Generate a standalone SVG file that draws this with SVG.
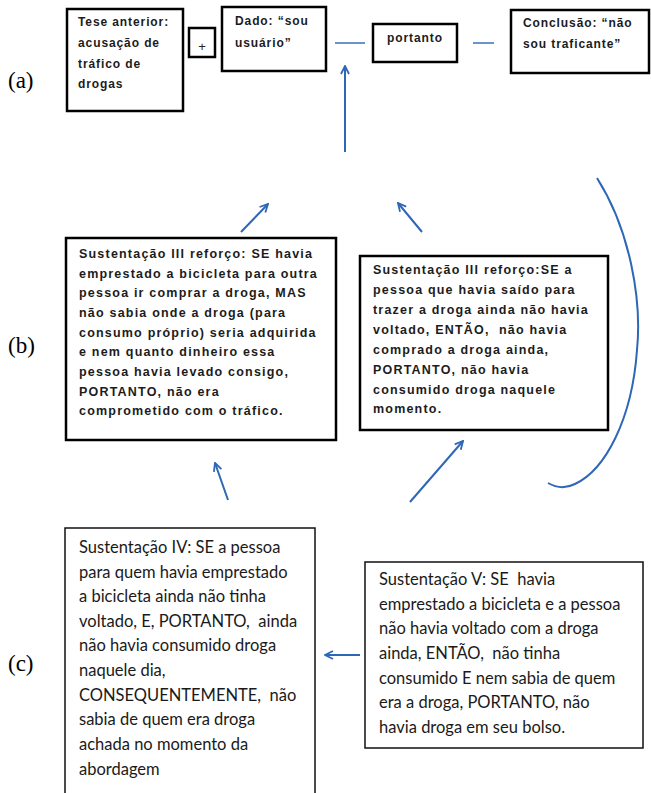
<svg xmlns="http://www.w3.org/2000/svg" width="651" height="793" viewBox="0 0 651 793">
<style>
text{white-space:pre}
.box{fill:#fff;stroke:#000;stroke-width:2.5}
.boxt{fill:#fff;stroke:#111;stroke-width:1.5}
.t{font-family:"Liberation Sans",Arial,sans-serif;font-weight:bold;font-size:12px;fill:#1c1c1c;letter-spacing:0.9px}
.m{font-family:"Liberation Sans",Arial,sans-serif;font-weight:bold;font-size:12.5px;fill:#1c1c1c;letter-spacing:1.2px}
.b{font-family:Lato,"Open Sans",sans-serif;font-size:16.5px;fill:#1a1a1a}
.lab{font-family:"Liberation Serif","Times New Roman",serif;font-size:23px;fill:#000}
.c{fill:none;stroke:#2e67b5;stroke-width:2}
.ln{fill:none;stroke:#3a70bd;stroke-width:1.5}
</style>
<defs>
<marker id="ah" viewBox="0 0 10 10" refX="9" refY="5" markerWidth="5" markerHeight="5" orient="auto" markerUnits="strokeWidth">
<path d="M1,1 L9,5 L1,9" fill="none" stroke="#2e67b5" stroke-width="1.8"/>
</marker>
</defs>
<rect width="651" height="793" fill="#fff"/>
<text class="lab" x="8" y="88">(a)</text>
<text class="lab" x="8" y="353">(b)</text>
<text class="lab" x="8" y="671">(c)</text>
<g id="connectors">
<line class="ln" x1="335" y1="43" x2="365" y2="43"/>
<line class="ln" x1="473" y1="43" x2="494" y2="43"/>
<line class="c" x1="345" y1="152" x2="345" y2="66" marker-end="url(#ah)"/>
<line class="c" x1="241" y1="232" x2="268" y2="204" marker-end="url(#ah)"/>
<line class="c" x1="422" y1="232" x2="398" y2="203" marker-end="url(#ah)"/>
<line class="c" x1="228" y1="500" x2="215" y2="463" marker-end="url(#ah)"/>
<line class="c" x1="410" y1="502" x2="463" y2="441" marker-end="url(#ah)"/>
<line class="c" x1="360" y1="655" x2="325" y2="655" marker-end="url(#ah)"/>
<path class="c" d="M597,178 C630,230 642,300 637,350 C632,420 605,470 575,484 C565,489 555,487 548,483"/>
</g>
<g id="tese">
<rect class="box" x="67" y="9" width="116" height="102"/>
<text class="t" x="78" y="26">Tese anterior:</text>
<text class="t" x="78" y="47">acusação de</text>
<text class="t" x="78" y="68">tráfico de</text>
<text class="t" x="78" y="88">drogas</text>
</g>
<g id="plus">
<rect class="box" x="189" y="28" width="26" height="29"/>
<text x="202" y="51" text-anchor="middle" font-family="Liberation Sans,Arial,sans-serif" font-size="13" fill="#222">+</text>
</g>
<g id="dado">
<rect class="box" x="222" y="7" width="104" height="64"/>
<text class="t" x="235" y="25">Dado: “sou</text>
<text class="t" x="235" y="47">usuário”</text>
</g>
<g id="portanto">
<rect class="box" x="373" y="24" width="84" height="38"/>
<text class="t" x="387" y="42">portanto</text>
</g>
<g id="conclusao">
<rect class="box" x="511" y="10" width="138" height="63"/>
<text class="t" x="523" y="27">Conclusão: “não</text>
<text class="t" x="523" y="48">sou traficante”</text>
</g>
<g id="sust3a">
<rect class="box" x="66" y="238" width="270" height="202"/>
<text class="m" x="79" y="258">Sustentação III reforço: SE havia</text>
<text class="m" x="79" y="278">emprestado a bicicleta para outra</text>
<text class="m" x="79" y="297">pessoa ir comprar a droga, MAS</text>
<text class="m" x="79" y="317">não sabia onde a droga (para</text>
<text class="m" x="79" y="337">consumo próprio) seria adquirida</text>
<text class="m" x="79" y="356">e nem quanto dinheiro essa</text>
<text class="m" x="79" y="376">pessoa havia levado consigo,</text>
<text class="m" x="79" y="396">PORTANTO, não era</text>
<text class="m" x="79" y="415">comprometido com o tráfico.</text>
</g>
<g id="sust3b">
<rect class="box" x="360" y="256" width="248" height="174"/>
<text class="m" x="373" y="274">Sustentação III reforço:SE a</text>
<text class="m" x="373" y="294">pessoa que havia saído para</text>
<text class="m" x="373" y="314">trazer a droga ainda não havia</text>
<text class="m" x="373" y="334">voltado, ENTÃO,  não havia</text>
<text class="m" x="373" y="354">comprado a droga ainda,</text>
<text class="m" x="373" y="374">PORTANTO, não havia</text>
<text class="m" x="373" y="394">consumido droga naquele</text>
<text class="m" x="373" y="413">momento.</text>
</g>
<g id="sust4">
<rect class="boxt" x="65" y="528" width="250" height="280"/>
<text class="b" x="79" y="553">Sustentação IV: SE a pessoa</text>
<text class="b" x="79" y="578">para quem havia emprestado</text>
<text class="b" x="79" y="602">a bicicleta ainda não tinha</text>
<text class="b" x="79" y="627">voltado, E, PORTANTO,  ainda</text>
<text class="b" x="79" y="651">não havia consumido droga</text>
<text class="b" x="79" y="676">naquele dia,</text>
<text class="b" x="79" y="701">CONSEQUENTEMENTE,  não</text>
<text class="b" x="79" y="725">sabia de quem era droga</text>
<text class="b" x="79" y="750">achada no momento da</text>
<text class="b" x="79" y="775">abordagem</text>
</g>
<g id="sust5">
<rect class="boxt" x="365" y="562" width="278" height="186"/>
<text class="b" x="379" y="585">Sustentação V: SE  havia</text>
<text class="b" x="379" y="610">emprestado a bicicleta e a pessoa</text>
<text class="b" x="379" y="634">não havia voltado com a droga</text>
<text class="b" x="379" y="659">ainda, ENTÃO,  não tinha</text>
<text class="b" x="379" y="684">consumido E nem sabia de quem</text>
<text class="b" x="379" y="708">era a droga, PORTANTO, não</text>
<text class="b" x="379" y="733">havia droga em seu bolso.</text>
</g>
</svg>
